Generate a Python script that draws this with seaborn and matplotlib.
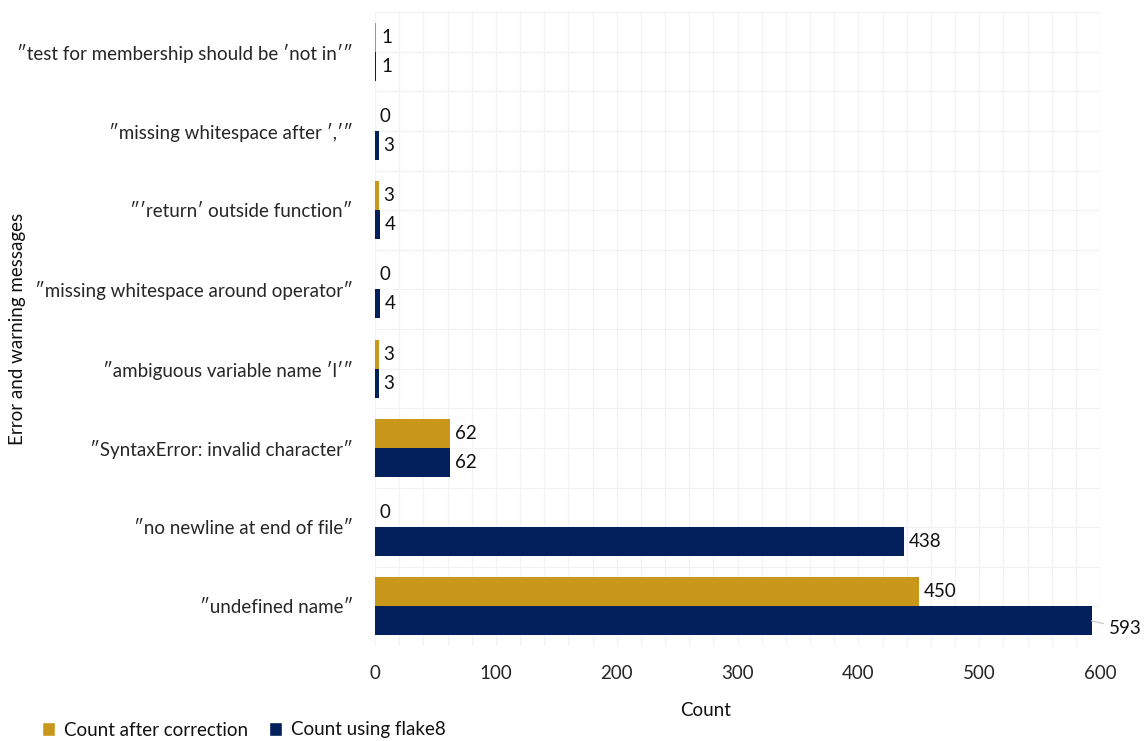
import matplotlib
matplotlib.use("Agg")
import matplotlib.pyplot as plt
from matplotlib.ticker import MultipleLocator, FixedLocator
from matplotlib.patches import Patch
import seaborn as sns
import pandas as pd

# Error / warning messages reported by flake8
messages = [
    "″test for membership should be ′not in′″",
    "″missing whitespace after ′,′″",
    "″′return′ outside function″",
    "″missing whitespace around operator″",
    "″ambiguous variable name ′l′″",
    "″SyntaxError: invalid character″",
    "″no newline at end of file″",
    "″undefined name″",
]
count_after = [1, 0, 3, 0, 3, 62, 0, 450]
count_flake8 = [1, 3, 4, 4, 3, 62, 438, 593]
series_names = ["Count after correction", "Count using flake8"]
x_ticks = [0, 100, 200, 300, 400, 500, 600]

GOLD = "#C9981A"
NAVY = "#02205B"

df = pd.DataFrame({
    "message": messages * 2,
    "count": count_after + count_flake8,
    "series": [series_names[0]] * len(messages) + [series_names[1]] * len(messages),
})

sns.set_theme(style="white")
plt.rcParams["font.family"] = ["Lato", "DejaVu Sans"]
plt.rcParams["text.color"] = "#111111"

fig = plt.figure(figsize=(11.46, 7.41), dpi=100)
ax = fig.add_axes([375 / 1146, 1 - 646 / 741, (1100 - 375) / 1146, (646 - 12) / 741])

sns.barplot(
    data=df, x="count", y="message", hue="series", order=messages,
    hue_order=series_names, palette=[GOLD, NAVY], orient="h",
    width=0.73, ax=ax, legend=False, saturation=1, linewidth=0,
)

ax.set_xlim(0, 600)
ax.set_ylim(len(messages) - 0.5, -0.5)

# light grid: every 20 units horizontally, at centres and boundaries vertically
ax.xaxis.set_major_locator(FixedLocator(x_ticks))
ax.xaxis.set_minor_locator(MultipleLocator(20))
ax.yaxis.set_minor_locator(FixedLocator([i + 0.5 for i in range(-1, len(messages))]))
ax.grid(True, which="both", color="#f2f2f2", linewidth=0.9)
ax.set_axisbelow(True)
for s in ax.spines.values():
    s.set_visible(False)

ax.tick_params(axis="both", which="both", length=0)
ax.tick_params(axis="y", pad=16, labelsize=13.5)
ax.tick_params(axis="x", pad=14, labelsize=13.5)
ax.set_xlabel("")
ax.set_ylabel("")

# value labels next to each bar
for container in ax.containers:
    for bar in container:
        w = bar.get_width()
        yc = bar.get_y() + bar.get_height() / 2
        if w > 580:
            ax.annotate(
                f"{int(round(w))}", xy=(w, yc), xytext=(w + 28, yc + 0.1),
                ha="center", va="center", fontsize=13.5, annotation_clip=False,
                arrowprops=dict(arrowstyle="-", color="#c8c8c8", lw=0.9,
                                shrinkA=1.5, shrinkB=0),
            )
        else:
            ax.annotate(
                f"{int(round(w))}", xy=(w, yc), xytext=(3.5, 0),
                textcoords="offset points", ha="left", va="center",
                fontsize=13.5,
            )

fig.text(18 / 1146, 1 - 329 / 741, "Error and warning messages", rotation=90,
         ha="center", va="center", fontsize=13.5)
fig.text(706 / 1146, 1 - 711 / 741, "Count", ha="center", va="center",
         fontsize=13.5)

handles = [Patch(facecolor=GOLD, label=series_names[0]),
           Patch(facecolor=NAVY, label=series_names[1])]
fig.legend(handles=handles, loc="center left", bbox_to_anchor=(34 / 1146, 1 - 730 / 741),
           ncol=2, frameon=False, fontsize=13.5, handlelength=0.7, handleheight=0.7,
           handletextpad=0.5, columnspacing=1.1, borderaxespad=0)

fig.savefig("out.png", dpi=100)
